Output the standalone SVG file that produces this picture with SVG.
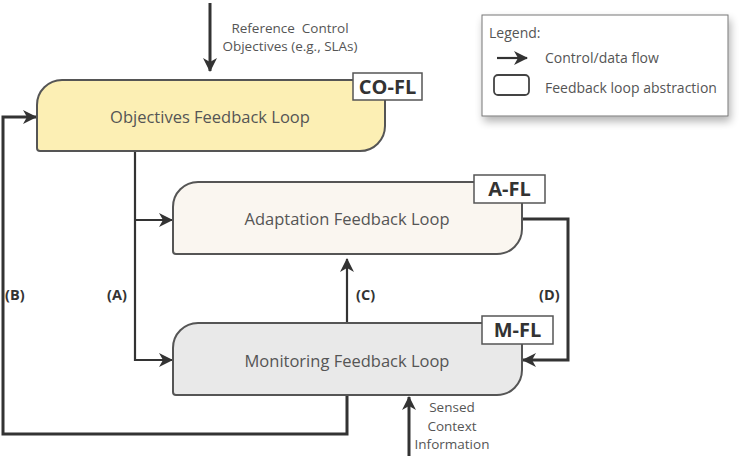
<svg xmlns="http://www.w3.org/2000/svg" width="741" height="456" viewBox="0 0 741 456">
<defs>
<marker id="ahb" markerWidth="14" markerHeight="14" refX="13" refY="7" orient="auto" markerUnits="userSpaceOnUse" viewBox="0 0 14 14">
<path d="M0,0 L14,7 L0,14 L4,7 Z" fill="#333"/>
</marker>
<filter id="sh" x="-10%" y="-10%" width="130%" height="140%">
<feGaussianBlur in="SourceAlpha" stdDeviation="4"/>
<feOffset dx="2" dy="5"/>
<feComponentTransfer><feFuncA type="linear" slope="0.3"/></feComponentTransfer>
<feMerge><feMergeNode/><feMergeNode in="SourceGraphic"/></feMerge>
</filter>
</defs>
<style>
.box{stroke:#555;stroke-width:2}
.t{font-family:"Open Sans","Liberation Sans",sans-serif;fill:#555}
.nt{font-size:16.5px;text-anchor:middle}
.lab{font-family:"Open Sans","Liberation Sans",sans-serif;font-weight:bold;font-size:20px;fill:#333;text-anchor:middle}
.tag{fill:#fff;stroke:#555;stroke-width:1.5}
.c{fill:none;stroke:#333;stroke-width:2.2}
.cb{fill:none;stroke:#333;stroke-width:3}
.pl{font-family:"Open Sans","Liberation Sans",sans-serif;font-weight:bold;font-size:14.5px;fill:#333}
.sm{font-size:13.5px;text-anchor:middle}
.lg{font-size:14px}
</style>
<g id="connectors">
<path class="cb" d="M210,3 V71" marker-end="url(#ahb)"/>
<path class="c" d="M135,151 V360 H172" marker-end="url(#ahb)"/>
<path class="c" d="M135,220 H172" marker-end="url(#ahb)"/>
<path class="cb" d="M347,395 V434 H3 V117 H36" marker-end="url(#ahb)"/>
<path class="c" d="M347,323 V259" marker-end="url(#ahb)"/>
<path class="cb" d="M522,219 H568 V360 H523" marker-end="url(#ahb)"/>
<path class="cb" d="M409,456 V397" marker-end="url(#ahb)"/>
</g>
<g id="ref-text">
<text class="t sm" x="290" y="33" xml:space="preserve">Reference  Control</text>
<text class="t sm" x="290" y="51">Objectives (e.g., SLAs)</text>
</g>
<g id="sensed-text">
<text class="t sm" x="452" y="412">Sensed</text>
<text class="t sm" x="452" y="431">Context</text>
<text class="t sm" x="452" y="449">Information</text>
</g>
<g id="labels">
<text class="pl" x="5" y="300">(B)</text>
<text class="pl" x="107" y="300">(A)</text>
<text class="pl" x="356" y="300">(C)</text>
<text class="pl" x="539" y="300">(D)</text>
</g>
<g id="objectives">
<path class="box" fill="#fcefb4" d="M37,105 A25,25 0 0 1 62,80 H385 V126 A25,25 0 0 1 360,151 H40 A3,3 0 0 1 37,148 Z"/>
<text class="t nt" x="210" y="123">Objectives Feedback Loop</text>
<rect class="tag" x="353" y="73" width="69" height="27"/>
<text class="lab" x="387.5" y="94">CO-FL</text>
</g>
<g id="adaptation">
<path class="box" fill="#faf6f0" d="M173,207 A25,25 0 0 1 198,182 H522 V229 A25,25 0 0 1 497,254 H176 A3,3 0 0 1 173,251 Z"/>
<text class="t nt" x="347" y="225">Adaptation Feedback Loop</text>
<rect class="tag" x="474" y="175" width="71" height="28"/>
<text class="lab" x="509.5" y="196">A-FL</text>
</g>
<g id="monitoring">
<path class="box" fill="#e9e9e9" d="M173,348 A25,25 0 0 1 198,323 H522 V370 A25,25 0 0 1 497,395 H176 A3,3 0 0 1 173,392 Z"/>
<text class="t nt" x="347" y="367">Monitoring Feedback Loop</text>
<rect class="tag" x="482" y="316" width="71" height="28"/>
<text class="lab" x="517.5" y="337">M-FL</text>
</g>
<g id="legend">
<rect x="482" y="15" width="246" height="101" fill="#fff" stroke="#777" stroke-width="1" filter="url(#sh)"/>
<text class="t lg" x="489" y="38">Legend:</text>
<path d="M497,58 H527" stroke="#333" stroke-width="2.2" fill="none" marker-end="url(#ahb)"/>
<text class="t lg" x="545" y="63">Control/data flow</text>
<rect x="494" y="75" width="35" height="20" rx="4" fill="#fff" stroke="#444" stroke-width="1.8"/>
<text class="t lg" x="545" y="93">Feedback loop abstraction</text>
</g>
</svg>
